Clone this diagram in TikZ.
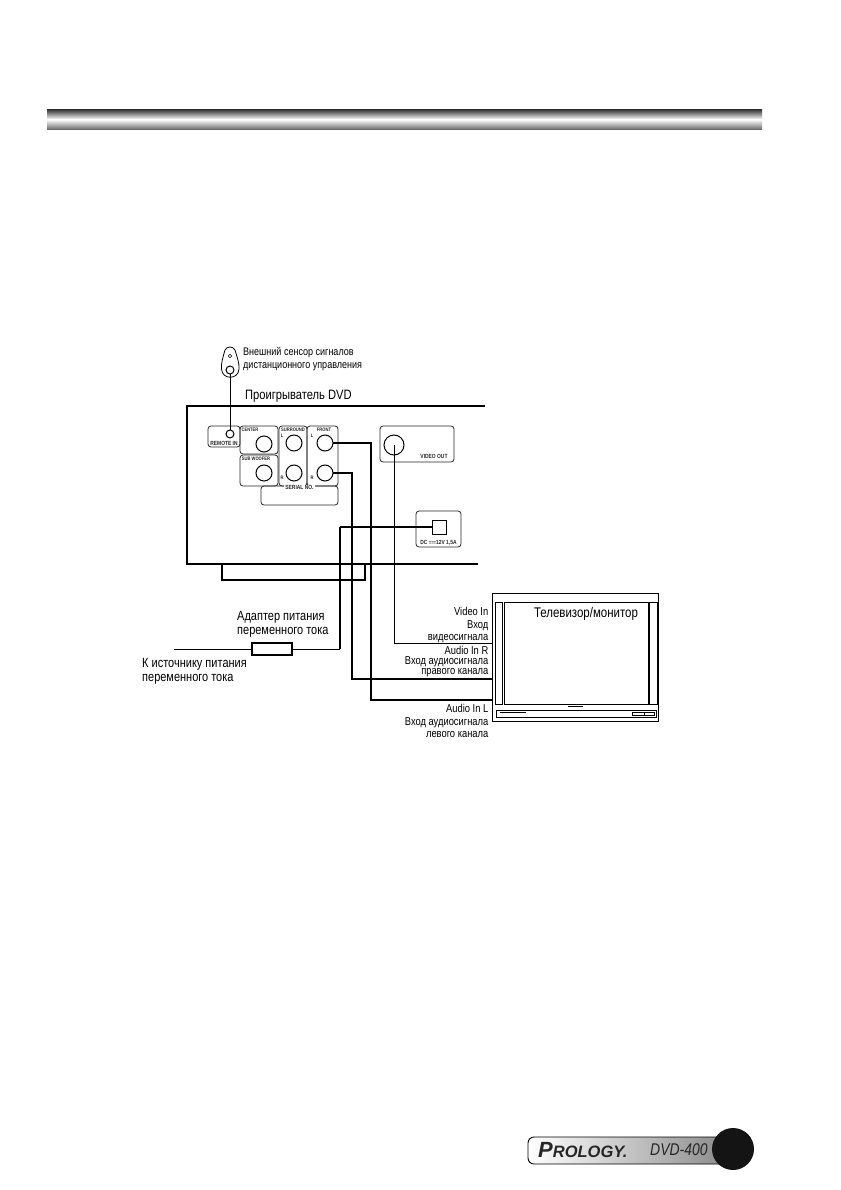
\documentclass[tikz,border=0pt]{standalone}
\usepackage{fontspec}
\setmainfont{Liberation Sans}
\newfontfamily\nrw[FakeStretch=0.82]{Liberation Sans}
\usetikzlibrary{calc}
\tikzset{
  x=1pt,y=-1pt,
  panel/.style={draw=black!85,line width=0.8pt,rounded corners=3pt,inner sep=0,outer sep=0},
  plain/.style={draw=black,line width=0.9pt,inner sep=0,outer sep=0},
  jack/.style={circle,draw=black,line width=1pt,inner sep=0,outer sep=0,minimum size=16pt},
  wire/.style={draw=black,line width=0.9pt},
  thickwire/.style={draw=black,line width=1.6pt},
  tiny/.style={font=\nrw\bfseries\fontsize{5}{6}\selectfont,inner sep=0,text=black!85},
  tinyb/.style={font=\nrw\bfseries\fontsize{6}{7}\selectfont,inner sep=0,text=black!85},
  lab/.style={font=\nrw\fontsize{11}{12.5}\selectfont,inner sep=0,anchor=west,align=left,text=black},
  biglab/.style={font=\nrw\fontsize{13.4}{14}\selectfont,inner sep=0,anchor=west,align=left,text=black},
  tvlab/.style={font=\nrw\fontsize{11.4}{12.5}\selectfont,inner sep=0,anchor=east,align=right,text=black},
}
\begin{document}
\begin{tikzpicture}
\useasboundingbox (0,0) rectangle (840,1190);
% header bar
\shade[top color=black!75,bottom color=white] (47,110) rectangle (762,119.5);
\shade[top color=white,bottom color=black!62] (47,119.5) rectangle (762,130);
% sensor
\draw[line width=0.8pt,fill=white] (225,350) .. controls (227,346) and (233,346) .. (235,350) .. controls (237,357) and (239.5,363) .. (239,369) .. controls (238.5,380) and (222,380) .. (221.5,369) .. controls (221,363) and (223,357) .. (225,350) -- cycle;
\node[circle,draw=black,line width=0.6pt,minimum size=3.5pt,inner sep=0] (sensorsmall) at (230,356) {};
\node[jack,minimum size=8pt] (sensor) at (230,370) {};
\node[lab] (sensorlab) at (243,359) {Внешний сенсор сигналов\\дистанционного управления};
\node[lab,font=\nrw\fontsize{13.6}{15}\selectfont] (playerlab) at (245,396) {Проигрыватель DVD};
% player chassis
\coordinate (pa) at (485,406); \coordinate (pb) at (187,406); \coordinate (pc) at (187,564); \coordinate (pd) at (478,564);
\draw[line width=1.2pt] (pa) -- (pb) -- (pc) -- (pd);
\node[plain,line width=1.6pt,minimum width=143pt,minimum height=16pt] (stand) at (293.5,572) {};
% panels
\node[panel,minimum width=32pt,minimum height=21pt] (remotebox) at (224,436.5) {};
\node[panel,minimum width=38pt,minimum height=28pt] (centerbox) at (259,440) {};
\node[panel,minimum width=38pt,minimum height=31pt] (subbox) at (259,470.5) {};
\node[panel,minimum width=28pt,minimum height=60pt] (surbox) at (293,456) {};
\node[panel,minimum width=31pt,minimum height=60pt] (frontbox) at (322.5,456) {};
\node[panel,minimum width=77pt,minimum height=19pt] (serialbox) at (299.5,495.5) {};
\node[panel,minimum width=74pt,minimum height=36pt] (videobox) at (417,444) {};
\node[panel,minimum width=45pt,minimum height=36pt] (dcbox) at (438.5,529) {};
% jacks
\node[jack,minimum size=8pt] (remote) at (230,434) {};
\node[jack] (center) at (264,444) {};
\node[jack] (sub) at (264,473) {};
\node[jack] (surl) at (294,443) {};
\node[jack] (surr) at (294,473) {};
\node[jack] (frontl) at (325,443) {};
\node[jack] (frontr) at (325,473) {};
\node[jack,minimum size=20pt] (video) at (394,445) {};
\node[plain,minimum size=14pt] (dc) at (439,527) {};
% tiny labels
\node[tinyb] (t1) at (224,443.5) {REMOTE IN};
\node[tiny] (t2) at (250,430) {CENTER};
\node[tiny] (t3) at (256,458.5) {SUB WOOFER};
\node[tiny] (t4) at (293,429.5) {SURROUND};
\node[tiny] (t5) at (324,429.5) {FRONT};
\node[tiny] (t6) at (282,436) {L};
\node[tiny] (t7) at (282,478) {R};
\node[tiny] (t8) at (312,436) {L};
\node[tiny] (t9) at (312,478) {R};
\node[tinyb,fill=white,inner xsep=1pt] (t10) at (299.5,487) {SERIAL NO.};
\node[tinyb] (t11) at (434,456.5) {VIDEO OUT};
\node[tinyb] (t12) at (438.5,543) {DC {\fontsize{5}{5}\selectfont ===}12V 1,5A};
% TV
\node[plain,minimum width=166pt,minimum height=128pt] (tv) at (575,657) {};
\node[plain,minimum width=7pt,minimum height=102pt] (spkl) at (498.5,653) {};
\node[plain,minimum width=8pt,minimum height=102pt] (spkr) at (653,653) {};
\node[plain,minimum width=144pt,minimum height=102pt] (screen) at (576,653) {};
\node[plain,minimum width=160pt,minimum height=7pt] (tvbase) at (576,713.5) {};
\coordinate (ma) at (568,706); \coordinate (mb) at (583,706);
\draw[line width=0.8pt] (ma) -- (mb);
\coordinate (mc) at (500,712); \coordinate (md) at (526,712);
\draw[line width=0.7pt] (mc) -- (md);
\node[plain,line width=0.8pt,minimum width=22pt,minimum height=3.5pt] (tvbtn) at (643,714) {};
\draw[line width=0.8pt] (644,712.2) -- (644,715.8);
\node[inner sep=0,font=\nrw\fontsize{14}{15}\selectfont,text=black] (tvlabel) at (586,614) {Телевизор/монитор};
% TV labels
\node[tvlab] (lv) at (488.5,625) {Video In\\Вход\\видеосигнала};
\node[tvlab,font=\nrw\fontsize{11.4}{10}\selectfont] (lr) at (488.5,662) {Audio In R\\Вход аудиосигнала\\правого канала};
\node[tvlab] (ll) at (488.5,721) {Audio In L\\Вход аудиосигнала\\левого канала};
% adapter
\node[plain,line width=1.4pt,minimum width=40pt,minimum height=12pt] (adapter) at (272,649) {};
\coordinate (mains) at (174,649);
\coordinate (dcturn) at (340,527);
\node[biglab] (adlab) at (237,624.5) {Адаптер питания\\переменного тока};
\node[biglab] (srclab) at (142,671) {К источнику питания\\переменного тока};
% wires
\draw[wire] (sensor) -- (remote);
\draw[wire] (mains) -- (adapter);
\draw[thickwire] (dc.center -| dc.west) -- (dcturn);
\draw[thickwire] (dcturn) -- (dcturn |- adapter);
\draw[wire] (dcturn |- adapter) -- (adapter);
\coordinate (vturn) at (video.center |- 0,643);
\draw[wire] (video.center) -- (vturn) -- (vturn -| tv.west);
\coordinate (rturn) at (352,473);
\draw[wire,line width=1.1pt] (frontr.east) -- (rturn) -- (rturn |- 0,679) -- (tv.west |- 0,679);
\coordinate (lturn) at (371,443);
\draw[wire,line width=1.1pt] (frontl.east) -- (lturn) -- (lturn |- 0,700) -- (tv.west |- 0,700);
% footer
\path[left color=white,right color=black!45,draw=black,line width=0.9pt,rounded corners=6pt] (725,1137) -- (528,1137) -- (528,1164) -- (725,1164);
\node[circle,fill=black!92,minimum size=42pt,inner sep=0] (badge) at (733,1149) {};
\node[inner sep=0,anchor=west,font=\bfseries\itshape\fontsize{16.5}{18}\selectfont,text=black!85] (brand) at (538,1150) {{\fontsize{22}{24}\selectfont P}ROLOGY.};
\node[inner sep=0,anchor=west,font=\nrw\itshape\fontsize{17}{18}\selectfont,text=black!85] (model) at (650,1150) {DVD-400};
\end{tikzpicture}
\end{document}
